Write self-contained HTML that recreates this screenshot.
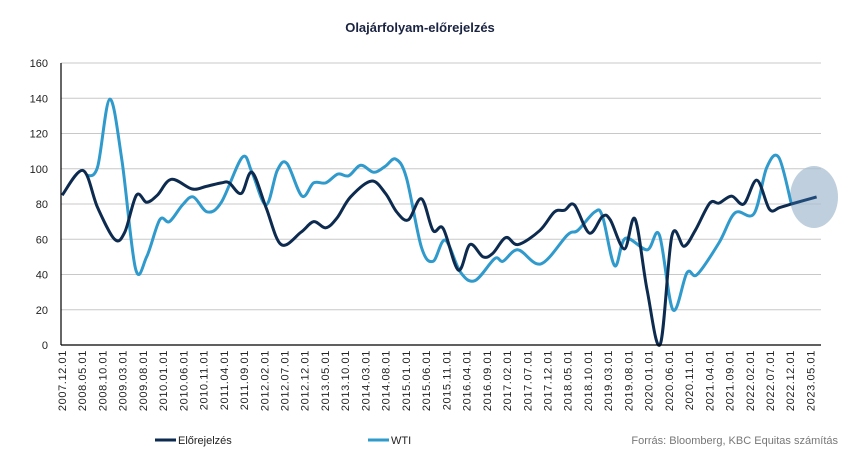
<!DOCTYPE html>
<html><head><meta charset="utf-8"><style>
html,body{margin:0;padding:0;background:#fff;}
svg{display:block;font-family:"Liberation Sans",sans-serif;}
</style></head><body>
<svg id="chart" width="850" height="471" viewBox="0 0 850 471">
<text x="420" y="32" text-anchor="middle" font-size="13" font-weight="bold" fill="#1a2340">Olajárfolyam-előrejelzés</text>
<g id="grid"></g>
<g id="yticks"></g>
<g id="xticks"></g>
<ellipse cx="814" cy="197" rx="24" ry="31" fill="#a9bfd2" opacity="0.75"></ellipse>
<g id="series"></g>
<line x1="61" y1="63" x2="61" y2="345" stroke="#000" stroke-width="1.2"></line>
<line x1="61" y1="345" x2="821" y2="345" stroke="#000" stroke-width="1.2"></line>
<g>
<line x1="155" y1="440" x2="176" y2="440" stroke="#0d2a4f" stroke-width="3"></line>
<text x="178" y="444" font-size="11" fill="#222">Előrejelzés</text></g>
<g>
<line x1="368" y1="440" x2="389" y2="440" stroke="#2f9acb" stroke-width="3"></line>
<text x="391" y="444" font-size="11" fill="#222">WTI</text></g>
<text x="838" y="444" text-anchor="end" font-size="11" fill="#777">Forrás: Bloomberg, KBC Equitas számítás</text>
</svg>
<script>
const yTicks=[0,20,40,60,80,100,120,140,160];
const xLabels=["2007.12.01","2008.05.01","2008.10.01","2009.03.01","2009.08.01","2010.01.01","2010.06.01","2010.11.01","2011.04.01","2011.09.01","2012.02.01","2012.07.01","2012.12.01","2013.05.01","2013.10.01","2014.03.01","2014.08.01","2015.01.01","2015.06.01","2015.11.01","2016.04.01","2016.09.01","2017.02.01","2017.07.01","2017.12.01","2018.05.01","2018.10.01","2019.03.01","2019.08.01","2020.01.01","2020.06.01","2020.11.01","2021.04.01","2021.09.01","2022.02.01","2022.07.01","2022.12.01","2023.05.01"];
const fcTimes=[2007.92,2008.35,2008.65,2009.00,2009.21,2009.45,2009.66,2009.88,2010.17,2010.60,2010.89,2011.20,2011.36,2011.61,2011.83,2012.12,2012.43,2012.84,2013.10,2013.35,2013.58,2013.86,2014.29,2014.58,2014.81,2015.05,2015.32,2015.56,2015.77,2016.08,2016.32,2016.59,2016.79,2017.06,2017.31,2017.76,2018.06,2018.27,2018.47,2018.78,2019.05,2019.21,2019.50,2019.72,2019.97,2020.24,2020.48,2020.73,2020.96,2021.26,2021.45,2021.71,2021.96,2022.23,2022.49,2022.70,2022.94];
const fcValues=[85,99,78,60,64,85,81,85,94,88.5,90,92,92,86,98,78,57,64,70,66.5,72,84,93,86,75.5,71,83,65,66,42.5,57,50,52,61,57,65,75.5,76.5,79.5,63.5,73,71,54.5,71.5,31,0.5,62,56,65,80.5,80.5,84.5,80,93.5,77,78,80];
const projTimes=[2022.94,2023.46];
const projValues=[80,84];
const wtiTimes=[2008.43,2008.65,2008.90,2009.15,2009.43,2009.66,2009.93,2010.13,2010.40,2010.62,2010.91,2011.20,2011.63,2011.83,2012.12,2012.35,2012.55,2012.86,2013.10,2013.35,2013.60,2013.82,2014.07,2014.34,2014.58,2014.79,2015.01,2015.32,2015.56,2015.81,2016.12,2016.42,2016.83,2017.00,2017.31,2017.78,2018.33,2018.54,2018.89,2019.05,2019.30,2019.52,2019.97,2020.22,2020.50,2020.79,2021.00,2021.45,2021.78,2022.17,2022.43,2022.68,2022.94];
const wtiValues=[96,101,139.5,105,43.5,50,71,70,79.5,84,75.5,81,106.5,98,79.5,99,103,84.5,92,92,97,96,102,98,101.5,105.5,95,55.5,47.5,59.5,41.5,36.5,49,47.5,54,46,62.5,65,75.5,73,45,60.5,54,62.5,20,41,40,58,75,74.5,100.5,106.5,80];

const NS="http://www.w3.org/2000/svg";
const x=t=>62+(t-2007.917)*48.55;
const y=v=>345-v*(282/160);
function mk(tag,attrs,parent){const e=document.createElementNS(NS,tag);for(const k in attrs)e.setAttribute(k,attrs[k]);parent.appendChild(e);return e;}
const grid=document.getElementById('grid'),yt=document.getElementById('yticks'),xt=document.getElementById('xticks'),ser=document.getElementById('series');
yTicks.forEach(v=>{
  if(v>0){const g=mk('line',{x1:61,x2:821,y1:y(v),y2:y(v),stroke:'#c8c8c8','stroke-width':1},grid);
  
  }
  const t=mk('text',{x:48,y:y(v)+4,'text-anchor':'end','font-size':11,fill:'#222'},yt);
  t.textContent=v;
  
  
});
xLabels.forEach(s=>{
  const p=s.split('.');const t=+p[0]+(+p[1]-1)/12;
  const px=x(t)+4;
  const e=mk('text',{x:0,y:0,transform:`translate(${px},350) rotate(-90)`,'text-anchor':'end','font-size':11,'letter-spacing':'0.6',fill:'#222'},xt);
  e.textContent=s;
  
  
});
function smooth(ts,vs){
  const P=ts.map((t,i)=>[x(t),y(vs[i])]);
  let d=`M${P[0][0]},${P[0][1]}`;
  for(let i=0;i<P.length-1;i++){
    const p0=P[i-1]||P[i],p1=P[i],p2=P[i+1],p3=P[i+2]||P[i+1];
    const c1=[p1[0]+(p2[0]-p0[0])/6,p1[1]+(p2[1]-p0[1])/6];
    const c2=[p2[0]-(p3[0]-p1[0])/6,p2[1]-(p3[1]-p1[1])/6];
    d+=` C${c1[0]},${c1[1]} ${c2[0]},${c2[1]} ${p2[0]},${p2[1]}`;
  }
  return d;
}
const w=mk('path',{d:smooth(wtiTimes,wtiValues),fill:'none',stroke:'#2f9acb','stroke-width':3,'stroke-linejoin':'round'},ser);


const f=mk('path',{d:smooth(fcTimes,fcValues),fill:'none',stroke:'#0d2a4f','stroke-width':3,'stroke-linejoin':'round'},ser);


const pr=mk('path',{d:smooth(projTimes,projValues),fill:'none',stroke:'#1f4a78','stroke-width':3},ser);


</script>
</body></html>
